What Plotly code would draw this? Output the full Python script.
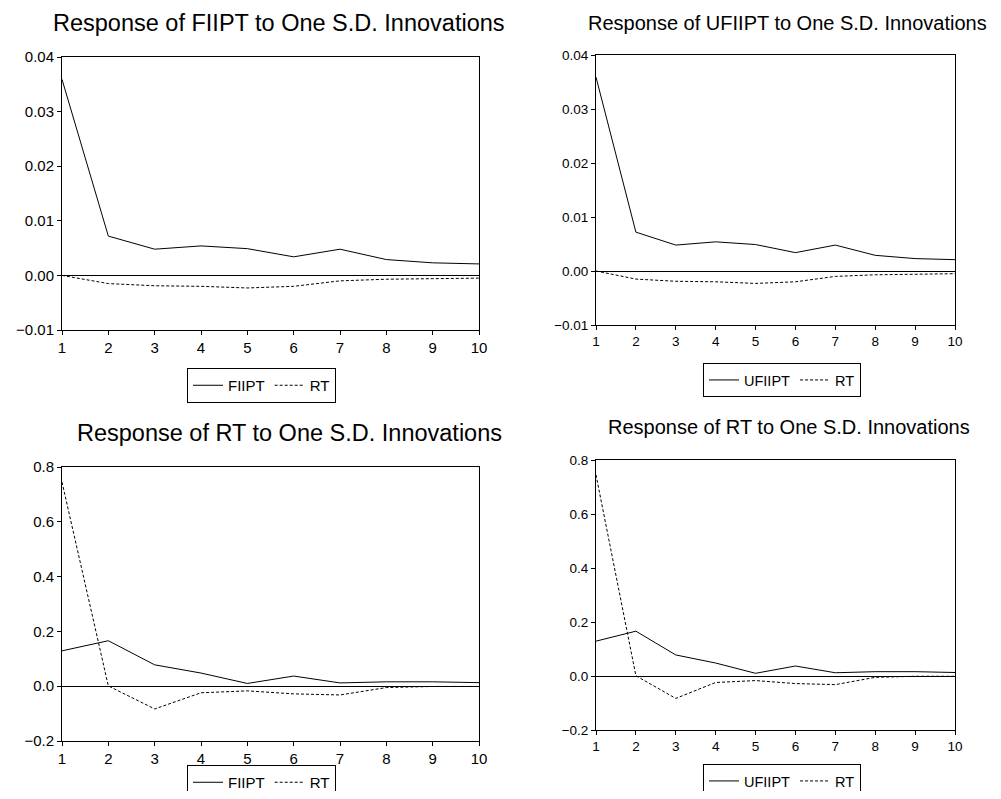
import plotly.graph_objects as go

periods = [1, 2, 3, 4, 5, 6, 7, 8, 9, 10]

# Response of FIIPT (and UFIIPT) to one S.D. innovations
fiipt_to_fiipt = [0.0359, 0.0072, 0.0048, 0.0054, 0.0049, 0.0034, 0.0048, 0.0029, 0.0023, 0.0021]
fiipt_to_rt = [0.0, -0.0015, -0.0019, -0.0020, -0.0023, -0.0020, -0.0010, -0.0007, -0.0006, -0.0005]
ufiipt_to_ufiipt = [0.0359, 0.0072, 0.0048, 0.0054, 0.0049, 0.0034, 0.0048, 0.0029, 0.0023, 0.0021]
ufiipt_to_rt = [0.0, -0.0015, -0.0019, -0.0020, -0.0023, -0.0020, -0.0010, -0.0007, -0.0006, -0.0005]

# Response of RT to one S.D. innovations
rt_to_fiipt = [0.129, 0.166, 0.078, 0.048, 0.010, 0.037, 0.012, 0.016, 0.016, 0.013]
rt_to_rt = [0.745, 0.001, -0.083, -0.024, -0.017, -0.028, -0.032, -0.005, -0.001, -0.001]
rt_to_ufiipt = [0.129, 0.166, 0.078, 0.048, 0.010, 0.037, 0.012, 0.016, 0.016, 0.013]
rt_to_rt2 = [0.745, 0.001, -0.083, -0.024, -0.017, -0.028, -0.032, -0.005, -0.001, -0.001]

titles = [
    "Response of FIIPT to One S.D. Innovations",
    "Response of UFIIPT to One S.D. Innovations",
    "Response of RT to One S.D. Innovations",
    "Response of RT to One S.D. Innovations",
]
top_ticks = [-0.01, 0.0, 0.01, 0.02, 0.03, 0.04]
bottom_ticks = [-0.2, 0.0, 0.2, 0.4, 0.6, 0.8]

# the page body has an 8px margin, so the figure is drawn 8px in from the corner
OFF = 8
W, H = 1001 - 2 * OFF, 799 - 2 * OFF
FONT = "Arial, Liberation Sans, sans-serif"

def px_x(x):
    return (x - OFF) / W

def px_y(y):
    return 1 - (y - OFF) / H

# panel geometry: (left, right, top, bottom) in window pixels
panels = [
    (62, 479, 57, 330),
    (596, 955, 55, 325),
    (62, 479, 467, 741),
    (596, 955, 460, 730),
]
title_pos = [(279, 23, 23.5), (787, 23, 20), (289, 433, 23.5), (789, 427, 20)]
legend_pos = [(187, 368), (703, 363), (187, 765), (703, 764)]
tick_font = [15, 13.5, 15, 13.5]
legend_font = [15, 14.5, 15, 14.5]

series = [
    ("FIIPT", fiipt_to_fiipt, fiipt_to_rt),
    ("UFIIPT", ufiipt_to_ufiipt, ufiipt_to_rt),
    ("FIIPT", rt_to_fiipt, rt_to_rt),
    ("UFIIPT", rt_to_ufiipt, rt_to_rt2),
]

fig = go.Figure()
layout = dict(
    width=W, height=H,
    margin=dict(l=0, r=0, t=0, b=0, autoexpand=False),
    paper_bgcolor="white", plot_bgcolor="white",
    font=dict(family=FONT, color="black"),
    annotations=[],
)

for i in range(4):
    n = "" if i == 0 else str(i + 1)
    leg = "legend" if i == 0 else f"legend{i + 1}"
    name1, s1, s2 = series[i]
    fig.add_trace(go.Scatter(
        x=periods, y=s1, mode="lines", name=name1,
        line=dict(color="black", width=1),
        xaxis="x" + n, yaxis="y" + n, legend=leg,
    ))
    fig.add_trace(go.Scatter(
        x=periods, y=s2, mode="lines", name="RT",
        line=dict(color="black", width=1, dash="3px,2px"),
        xaxis="x" + n, yaxis="y" + n, legend=leg,
    ))
    l, r, t, b = panels[i]
    ticks = top_ticks if i < 2 else bottom_ticks
    fmt = ".2f" if i < 2 else ".1f"
    layout["xaxis" + n] = dict(
        domain=[px_x(l), px_x(r)], anchor="y" + n,
        range=[1, 10], tickvals=periods,
        showline=True, mirror=True, linecolor="black", linewidth=1,
        ticks="outside", ticklen=4, tickcolor="black",
        showgrid=False, zeroline=False,
        tickfont=dict(size=tick_font[i], family=FONT, color="black"),
    )
    layout["yaxis" + n] = dict(
        domain=[px_y(b), px_y(t)], anchor="x" + n,
        range=[ticks[0], ticks[-1]], tickvals=ticks, tickformat=fmt,
        showline=True, mirror=True, linecolor="black", linewidth=1,
        ticks="outside", ticklen=4, tickcolor="black",
        showgrid=False, zeroline=True, zerolinecolor="black", zerolinewidth=1,
        tickfont=dict(size=tick_font[i], family=FONT, color="black"),
    )
    lx, ly = legend_pos[i]
    layout[leg] = dict(
        x=px_x(lx), y=px_y(ly), xanchor="left", yanchor="top",
        orientation="h", bordercolor="black", borderwidth=1,
        bgcolor="white", itemwidth=30,
        font=dict(size=legend_font[i], family=FONT, color="black"),
        tracegroupgap=0,
    )
    tx, ty, ts = title_pos[i]
    layout["annotations"].append(dict(
        text=titles[i], x=px_x(tx), y=px_y(ty), xref="paper", yref="paper",
        xanchor="center", yanchor="middle", showarrow=False,
        font=dict(size=ts, family=FONT, color="black"),
    ))

fig.update_layout(**layout)
fig.write_html("out.html")
